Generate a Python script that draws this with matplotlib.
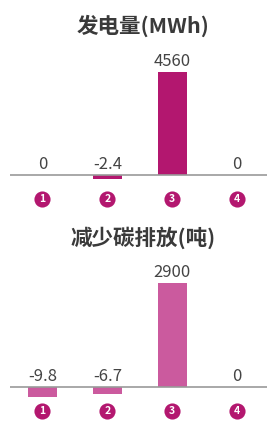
import matplotlib
matplotlib.use("Agg")
import matplotlib.pyplot as plt
import matplotlib.transforms as mtransforms
import numpy as np

plt.rcParams['font.family'] = ['Noto Sans CJK SC', 'DejaVu Sans']

# ---------- Daten ----------
kategorien = ['1', '2', '3', '4']
titel_oben = '发电量(MWh)'
werte_oben = [0, -2.4, 4560, 0]
labels_oben = ['0', '-2.4', '4560', '0']
titel_unten = '减少碳排放(吨)'
werte_unten = [-9.8, -6.7, 2900, 0]
labels_unten = ['-9.8', '-6.7', '2900', '0']

dunkel = '#B3176F'
hell = '#CB5A9E'
textfarbe = '#444444'

fig = plt.figure(figsize=(2.67, 4.30), dpi=100)
W, H = 267, 430


def panel(werte, labels, titel, farbe, k, y_titel, y_basis, px_max, y_top_px, y_bot_px):
    # negative Werte werden gestreckt (wie im Original), positive linear
    fwd = lambda y: np.where(y < 0, y * k, y)
    inv = lambda y: np.where(y < 0, y / k, y)
    ax = fig.add_axes([10 / W, 1 - y_bot_px / H, (W - 10) / W, (y_bot_px - y_top_px) / H])
    ax.set_yscale('function', functions=(fwd, inv))
    x = np.arange(len(werte))
    ax.bar(x, werte, width=0.45, color=farbe, zorder=2)
    ax.set_xlim(-0.5, 3.46)
    skal = max(werte) / px_max  # Dateneinheiten pro Pixel
    ax.set_ylim(-(y_bot_px - y_basis) * skal / k, (y_basis - y_top_px) * skal)
    ax.axhline(0, color='#999999', lw=1.2, zorder=3)
    for xi, v, lab in zip(x, werte, labels):
        ax.text(xi, max(v, 0) + 2 * skal, lab, ha='center', va='bottom',
                fontsize=12, color=textfarbe)
    # Kreise mit Nummern unter der Achse
    trans = mtransforms.blended_transform_factory(ax.transData, ax.transAxes)
    y_kreis = (y_bot_px - (y_basis + 24)) / (y_bot_px - y_top_px)
    ax.scatter(x, [y_kreis] * len(x), s=135, color=dunkel, transform=trans,
               clip_on=False, zorder=4, linewidths=0)
    for xi, kat in zip(x, kategorien):
        ax.text(xi, y_kreis, kat, transform=trans, ha='center', va='center',
                color='white', fontsize=7.5, fontweight='bold', zorder=5)
    ax.set_xticks([])
    ax.set_yticks([])
    for s in ax.spines.values():
        s.set_visible(False)
    ax.patch.set_alpha(0)
    fig.text(0.535, 1 - y_titel / H, titel, ha='center', va='center',
             fontsize=15.5, fontweight='bold', color='#3a3a3a')
    return ax


panel(werte_oben, labels_oben, titel_oben, dunkel, 79, 26, 175, 103.3, 45, 185)
panel(werte_unten, labels_unten, titel_unten, hell, 30, 238, 387, 104, 255, 397)

fig.savefig('out.png', dpi=100)
